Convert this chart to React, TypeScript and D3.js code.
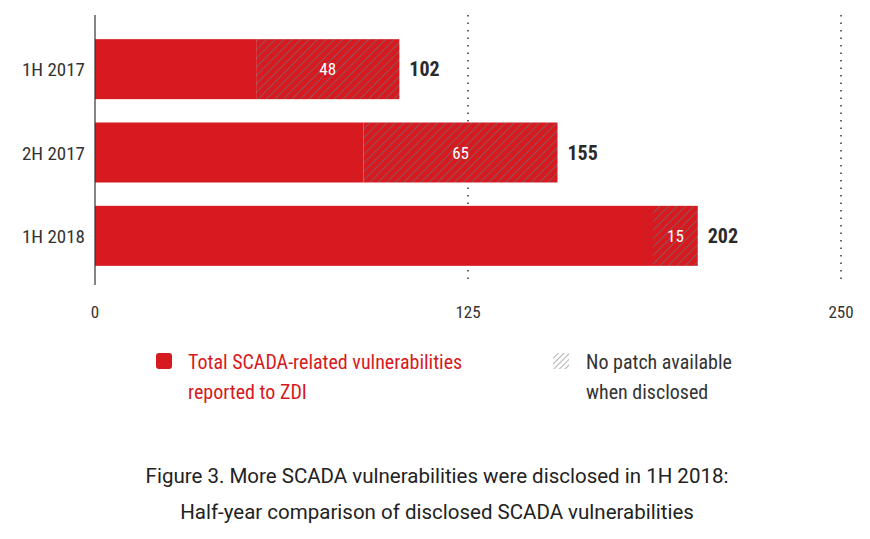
import React from "react";
import * as d3 from "d3";

const categories = ["1H 2017", "2H 2017", "1H 2018"];
const totals = [102, 155, 202];
const noPatch = [48, 65, 15];
const ticks = [0, 125, 250];

const RED = "#d71920";
const FONT = "'Liberation Sans Narrow', 'Roboto Condensed', Roboto, sans-serif";

export default function App() {
  const x = d3.scaleLinear().domain([0, 250]).range([95, 841]);
  const y = d3.scaleBand().domain(categories).range([35, 270]).paddingInner(0.28).paddingOuter(0.05);
  return (
    <svg width={870} height={539} style={{ position: "absolute", left: 0, top: 0, background: "#fff" }}>
      <defs>
        <pattern id="hatch" width={6} height={6} patternUnits="userSpaceOnUse" patternTransform="rotate(45)">
          <rect width={6} height={6} fill={RED} />
          <line x1={0} y1={0} x2={0} y2={6} stroke="#6e6e72" strokeWidth={1.4} />
        </pattern>
        <pattern id="hatchL" width={4} height={4} patternUnits="userSpaceOnUse" patternTransform="rotate(45)">
          <rect width={4} height={4} fill="#fff" />
          <line x1={0} y1={0} x2={0} y2={4} stroke="#888" strokeWidth={1.3} />
        </pattern>
      </defs>
      {ticks.slice(1).map((t) => (
        <line key={t} x1={x(t)} x2={x(t)} y1={15} y2={285} stroke="#333" strokeWidth={1.5} strokeDasharray="1.5,6" />
      ))}
      {categories.map((c, i) => {
        const y0 = y(c)!;
        const h = y.bandwidth();
        const hs = totals[i] - noPatch[i];
        return (
          <g key={c}>
            <rect x={x(0)} y={y0} width={x(hs) - x(0)} height={h} fill={RED} />
            <rect x={x(hs)} y={y0} width={x(totals[i]) - x(hs)} height={h} fill="url(#hatch)" />
            <text x={(x(hs) + x(totals[i])) / 2} y={y0 + h / 2 + 6} textAnchor="middle" fill="#fff" fontFamily={FONT} fontSize={17}>{noPatch[i]}</text>
            <text x={x(totals[i]) + 10} y={y0 + h / 2 + 7} fill="#2a2a2a" fontFamily={FONT} fontSize={20} fontWeight="bold">{totals[i]}</text>
            <text x={85} y={y0 + h / 2 + 7} textAnchor="end" fill="#333" fontFamily={FONT} fontSize={19}>{c}</text>
          </g>
        );
      })}
      <line x1={95} x2={95} y1={15} y2={285} stroke="#333" strokeWidth={1.2} />
      {ticks.map((t) => (
        <text key={t} x={x(t)} y={318} textAnchor="middle" fill="#333" fontFamily={FONT} fontSize={17}>{t}</text>
      ))}
      <rect x={156} y={353} width={16} height={16} rx={3} fill={RED} />
      <text x={188} y={369} fill={RED} fontFamily={FONT} fontSize={20}>Total SCADA-related vulnerabilities</text>
      <text x={188} y={399} fill={RED} fontFamily={FONT} fontSize={20}>reported to ZDI</text>
      <rect x={553} y={353} width={16} height={16} fill="url(#hatchL)" />
      <text x={586} y={369} fill="#333" fontFamily={FONT} fontSize={20}>No patch available</text>
      <text x={586} y={399} fill="#333" fontFamily={FONT} fontSize={20}>when disclosed</text>
      <text x={437} y={483} textAnchor="middle" fill="#222" fontFamily="Roboto, 'Liberation Sans', sans-serif" fontSize={20.5}>Figure 3. More SCADA vulnerabilities were disclosed in 1H 2018:</text>
      <text x={437} y={519} textAnchor="middle" fill="#222" fontFamily="Roboto, 'Liberation Sans', sans-serif" fontSize={20.5}>Half-year comparison of disclosed SCADA vulnerabilities</text>
    </svg>
  );
}
